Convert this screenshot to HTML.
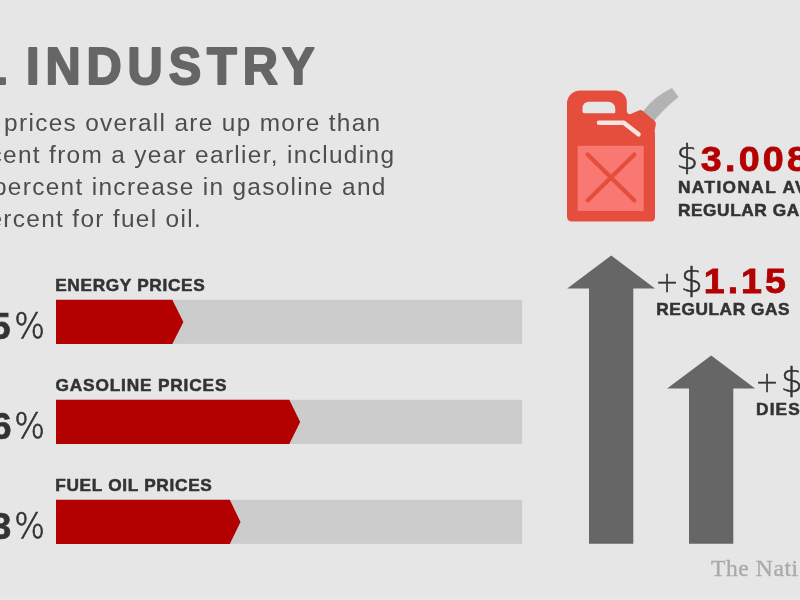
<!DOCTYPE html>
<html lang="en">
<head>
<meta charset="utf-8">
<title>Fuel Industry</title>
<style>
html,body{margin:0;padding:0;background:#e6e6e6;}
body{width:800px;height:600px;overflow:hidden;position:relative;font-family:"Liberation Sans",sans-serif;}
svg{position:absolute;left:0;top:0;display:block;}
text{font-family:"Liberation Sans",sans-serif;}
.h1{font-weight:bold;font-size:51.5px;fill:#666;stroke:#666;stroke-width:2px;stroke-linejoin:round;letter-spacing:6.27px;}
.p{font-size:24.4px;fill:#4d4d4d;letter-spacing:1.33px;}
.lbl{font-weight:bold;font-size:16px;fill:#333;stroke:#333;stroke-width:0.5px;letter-spacing:0.6px;}
.num{font-weight:bold;font-size:36px;fill:#333;stroke:#333;stroke-width:0.7px;}
.pct{font-family:"DejaVu Sans",sans-serif;font-weight:200;font-size:36.3px;fill:#333;stroke:#333;stroke-width:0.7px;}
.red{font-weight:bold;font-size:35.5px;fill:#b30000;stroke:#b30000;stroke-width:0.8px;letter-spacing:2.8px;}
.lt{font-family:"DejaVu Sans",sans-serif;font-weight:200;font-size:33px;fill:#333;stroke:#333;stroke-width:0.5px;}
.plus{font-family:"DejaVu Sans",sans-serif;font-weight:200;font-size:27.6px;fill:#333;stroke:#333;stroke-width:0.5px;}
.lbl2{font-weight:bold;font-size:16px;fill:#333;stroke:#333;stroke-width:0.5px;letter-spacing:0.53px;}
.wm{font-family:"Liberation Serif",serif;font-size:23.5px;fill:#aaa;stroke:#aaa;stroke-width:0.35px;letter-spacing:0.6px;}
</style>
</head>
<body>
<svg width="800" height="600" viewBox="0 0 800 600">
<rect x="0" y="0" width="800" height="600" fill="#e6e6e6"/>
<rect x="0" y="597" width="800" height="3" fill="#e9e9e9"/>

<!-- heading -->
<text class="h1" transform="translate(26,84.3) scale(0.945,1)" x="0" y="0"><tspan x="-174">FUEL</tspan><tspan x="0">INDUSTRY</tspan></text>

<!-- paragraph -->
<text class="p" x="381.5" y="130.6" text-anchor="end">Energy prices overall are up more than</text>
<text class="p" x="395.3" y="162.6" text-anchor="end">25 percent from a year earlier, including</text>
<text class="p" x="386.7" y="194.6" text-anchor="end">a 46 percent increase in gasoline and</text>
<text class="p" x="202.1" y="226.6" text-anchor="end">33 percent for fuel oil.</text>

<!-- bars -->
<g>
<text class="lbl" transform="translate(55.2,290.5) scale(1.08,1)" style="letter-spacing:0.6px">ENERGY PRICES</text>
<rect x="56" y="299.8" width="466.1" height="44.1" fill="#ccc"/>
<polygon points="56,299.8 172.3,299.8 183.4,322 172.3,344 56,344" fill="#b30000"/>
<text class="num" x="10.5" y="338.6" text-anchor="end">25</text>
<text class="pct" transform="translate(14.2,338.0) scale(0.89,1)">%</text>

<text class="lbl" transform="translate(55.5,390.5) scale(1.08,1)" style="letter-spacing:0.77px">GASOLINE PRICES</text>
<rect x="56" y="399.8" width="466.1" height="44.1" fill="#ccc"/>
<polygon points="56,399.8 289.3,399.8 300.2,422 289.3,444 56,444" fill="#b30000"/>
<text class="num" x="11.5" y="438.6" text-anchor="end">46</text>
<text class="pct" transform="translate(14.2,438.0) scale(0.89,1)">%</text>

<text class="lbl" transform="translate(55.2,490.5) scale(1.08,1)" style="letter-spacing:0.63px">FUEL OIL PRICES</text>
<rect x="56" y="499.8" width="466.1" height="44.1" fill="#ccc"/>
<polygon points="56,499.8 229.8,499.8 240.5,522 229.8,544 56,544" fill="#b30000"/>
<text class="num" x="11.2" y="538.6" text-anchor="end">33</text>
<text class="pct" transform="translate(14.2,538.0) scale(0.89,1)">%</text>
</g>

<!-- arrows -->
<polygon points="611.2,255.5 655,288.5 633.3,288.5 633.3,543.8 589,543.8 589,288.5 567.2,288.5" fill="#666"/>
<polygon points="711.2,355.5 755.1,388.5 733.3,388.5 733.3,543.8 689,543.8 689,388.5 667.1,388.5" fill="#666"/>

<!-- gas can -->
<g>
<path d="M641,114 L645,109 Q655,96 672,88 L678.5,97 Q667,106 656,118.5 L652,124 Z" fill="#b3b3b3"/>
<path d="M580,90.4 H614.8 A12,12 0 0 1 626.8,102.4 V110 Q626.8,114 630,114.3 L639.5,110.3 Q641,109.6 642.2,110.6 L654.6,121 Q656.2,122.4 655.8,124.5 L654.6,131 Q655,132.5 655,135 V216.9 Q655,221.4 650.5,221.4 H572 Q567,221.4 567,216.4 V103.4 A13,13 0 0 1 580,90.4 Z" fill="#e54e3c"/>
<path d="M584.3,113.2 Q582.5,113.2 582.5,111.4 V108 A6.2,6.2 0 0 1 588.7,101.8 H608.3 A7,7 0 0 1 615.3,108.8 V112 Q615.3,113.2 614.1,113.2 Z" fill="#e6e6e6"/>
<path d="M599,122.8 H623.8 L638.5,134.3" fill="none" stroke="#f5e4e0" stroke-width="4.6" stroke-linecap="round" stroke-linejoin="round"/>
<rect x="577.7" y="145.8" width="66" height="65.2" fill="#f97872"/>
<path d="M587.6,154.6 L634.4,200.4 M634.4,154.6 L587.6,200.4" stroke="#e54e3c" stroke-width="4.2" stroke-linecap="round"/>
</g>

<!-- price text -->
<text class="lt" transform="translate(676.3,169.2) scale(1.05,1)">$</text>
<text class="red" style="letter-spacing:3.1px" transform="translate(700.7,170.6) scale(1.06,1)">3.008</text>
<text class="lbl2" style="letter-spacing:1.3px" transform="translate(678,193.4) scale(1.08,1)">NATIONAL AVERAGE</text>
<text class="lbl2" style="letter-spacing:0.55px" transform="translate(677.9,215.7) scale(1.08,1)">REGULAR GAS</text>

<text class="plus" x="655.4" y="291.9">+</text>
<text class="lt" transform="translate(680.7,292) scale(1.05,1)">$</text>
<text class="red" transform="translate(703.8,292.8) scale(1.06,1)">1.15</text>
<text class="lbl2" transform="translate(656.3,315) scale(1.08,1)">REGULAR GAS</text>

<text class="plus" x="755.6" y="391.9">+</text>
<text class="lt" transform="translate(780.7,392) scale(1.05,1)">$</text>
<text class="red" transform="translate(803.8,392.8) scale(1.06,1)">1.24</text>
<text class="lbl2" style="letter-spacing:1px" transform="translate(756.1,415.2) scale(1.08,1)">DIESEL</text>

<text class="wm" x="711" y="576.2">The Nati<tspan dx="3">on</tspan></text>
</svg>
</body>
</html>
